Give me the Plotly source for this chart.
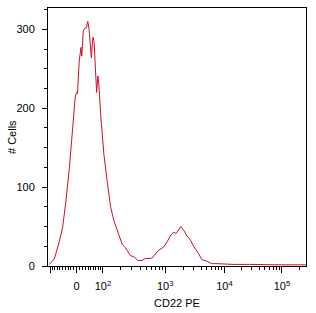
import numpy as np
import plotly.graph_objects as go

# Histogram of CD22 PE: display channel (0-1024 over logicle axis) vs cell count
channel = [5, 25, 45, 58, 71, 85, 98, 108, 113, 117, 124, 131, 134, 140, 148, 153,
           156, 158, 163, 167, 172, 176, 179, 183, 189, 193, 198, 202, 209, 222, 235,
           249, 262, 282, 295, 308, 327, 340, 357, 373, 386, 400, 413, 426, 439, 459,
           472, 485, 499, 508, 516, 527, 539, 552, 565, 578, 595, 611, 631, 648, 671,
           700, 734, 800, 860, 920, 980, 1024]
count = [2, 9, 31, 49, 82, 125, 175, 214, 220, 219, 260, 277, 266, 298, 302, 302,
         308, 310, 300, 285, 264, 282, 290, 283, 243, 220, 241, 230, 192, 141, 107,
         74, 57, 40, 27, 23, 13, 12, 7, 7, 9.5, 9.5, 10, 15, 20, 24,
         30, 38, 43, 41, 45, 50, 45, 38, 33, 25, 17, 8, 6, 3, 3,
         2.5, 2, 2, 1.5, 1.5, 1.5, 1.5]

major_vals = [-100, 0, 100, 1000, 10000, 100000]
major_text = ["", "0", "10<sup>2</sup>", "10<sup>3</sup>", "10<sup>4</sup>", "10<sup>5</sup>"]
minor_vals = ([-v for v in range(10, 100, 10)] + list(range(10, 100, 10)) +
              list(range(200, 1000, 100)) + list(range(2000, 10000, 1000)) +
              list(range(20000, 100000, 10000)) + [200000])

y_major = [0, 100, 200, 300]
y_minor = [25, 50, 75, 125, 150, 175, 225, 250, 275, 325]

x_title = "CD22 PE"
y_title = "# Cells"

# Logicle transform parameters
T, M, W = 262144.0, 4.5, 0.5
N_CH = 1024.0


def logicle_channels(values):
    m = M * np.log(10)
    w = W * np.log(10)
    lo, hi = 1.0001, 50.0
    for _ in range(200):
        mid = 0.5 * (lo + hi)
        if 2 * mid * np.log(mid) / (mid + 1) < w:
            lo = mid
        else:
            hi = mid
    p = 0.5 * (lo + hi)
    xs = np.linspace(-1.0, m + 1.0, 200001)

    def S(x):
        d = x - w
        return T * np.exp(-(m - w)) * (np.exp(d) - p * p * np.exp(-d / p) + p * p - 1)

    sv = np.where(xs >= w, S(xs), -S(2 * w - xs))
    xv = np.interp(np.asarray(values, float), sv, xs)
    return xv / m * N_CH


fig = go.Figure()
fig.add_trace(go.Scatter(x=channel, y=count, mode="lines",
                         line=dict(color="#cc1028", width=1), hoverinfo="skip"))

font = dict(family="Liberation Sans, Arial, sans-serif", size=11, color="black")
fig.update_layout(
    width=316, height=313,
    margin=dict(l=48, r=10, t=8, b=47),
    paper_bgcolor="white", plot_bgcolor="white",
    showlegend=False, font=font,
)
fig.update_xaxes(
    range=[0, N_CH], showgrid=False, zeroline=False, automargin=False,
    showline=True, linecolor="black", linewidth=1, mirror=True,
    tickmode="array", tickvals=list(logicle_channels(major_vals)), ticktext=major_text,
    ticks="outside", ticklen=6, tickcolor="black", tickwidth=1,
    minor=dict(tickmode="array", tickvals=list(logicle_channels(minor_vals)),
               ticks="outside", ticklen=3, tickcolor="black", tickwidth=1),
    ticklabelstandoff=4,
    title=dict(text=x_title, font=font, standoff=8),
    tickfont=font,
)
fig.update_yaxes(
    range=[0, 327], showgrid=False, zeroline=False, automargin=False,
    showline=True, linecolor="black", linewidth=1, mirror=True,
    tickmode="array", tickvals=y_major, ticktext=[str(v) for v in y_major],
    ticks="outside", ticklen=5, tickcolor="black", tickwidth=1,
    minor=dict(tickmode="array", tickvals=y_minor, ticks="outside",
               ticklen=3, tickcolor="black", tickwidth=1),
    ticklabelstandoff=5,
    tickfont=font,
)
fig.add_annotation(text=y_title, textangle=-90, xref="paper", yref="paper",
                   x=0, xshift=-36, y=0.5, xanchor="center", yanchor="middle",
                   showarrow=False, font=font)
fig.write_html("out.html")
